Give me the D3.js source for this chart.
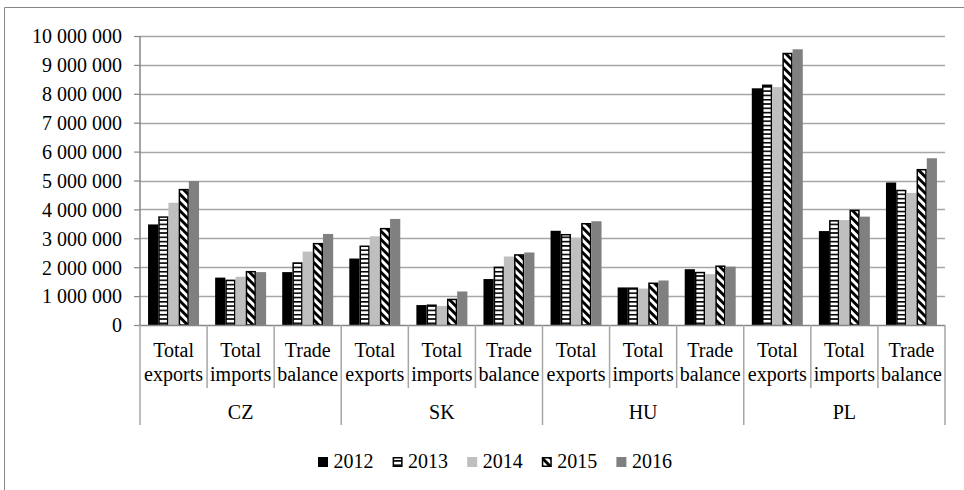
<!DOCTYPE html>
<html><head><meta charset="utf-8">
<script src="https://cdn.jsdelivr.net/npm/d3@7"></script>
<style>body{margin:0;background:#fff}svg{display:block}text{font-family:"Liberation Serif","DejaVu Serif",serif;fill:#000}</style>
</head><body><svg id="c" width="964" height="490"></svg>
<script>
const groups = ["CZ", "SK", "HU", "PL"];
const measures = [["Total", "exports"], ["Total", "imports"], ["Trade", "balance"]];
const years = ["2012", "2013", "2014", "2015", "2016"];
// values per group, per measure, per year
const CZ = [[3480000, 3760000, 4230000, 4710000, 4980000], [1640000, 1570000, 1670000, 1870000, 1830000], [1830000, 2170000, 2540000, 2840000, 3150000]];
const SK = [[2300000, 2750000, 3070000, 3360000, 3670000], [690000, 710000, 660000, 910000, 1160000], [1590000, 2020000, 2370000, 2450000, 2510000]];
const HU = [[3260000, 3150000, 3020000, 3530000, 3590000], [1300000, 1300000, 1260000, 1470000, 1540000], [1930000, 1840000, 1760000, 2060000, 2020000]];
const PL = [[8190000, 8320000, 8230000, 9420000, 9540000], [3250000, 3630000, 3630000, 3990000, 3750000], [4930000, 4680000, 4570000, 5400000, 5770000]];
const yTicks = [0, 1000000, 2000000, 3000000, 4000000, 5000000, 6000000, 7000000, 8000000, 9000000, 10000000];

const groupData = {CZ, SK, HU, PL};
const svg = d3.select("#c");
const L = 140, R = 945, T = 36, B = 325;

// outer border (only top and left visible in frame)
svg.append("path").attr("d", "M4.5,490V7.5H964")
  .attr("fill", "none").attr("stroke", "#868686").attr("stroke-width", 1);

// patterns
const defs = svg.append("defs");
const p13 = defs.append("pattern").attr("id", "p2013").attr("patternUnits", "userSpaceOnUse")
  .attr("width", 8).attr("height", 4.3);
p13.append("rect").attr("width", 8).attr("height", 4.3).attr("fill", "#fff");
p13.append("rect").attr("y", 0).attr("width", 8).attr("height", 1.6).attr("fill", "#000");
const p15 = defs.append("pattern").attr("id", "p2015").attr("patternUnits", "userSpaceOnUse")
  .attr("width", 5.8).attr("height", 10).attr("patternTransform", "rotate(-45)");
p15.append("rect").attr("width", 5.8).attr("height", 10).attr("fill", "#fff");
p15.append("rect").attr("width", 2.9).attr("height", 10).attr("fill", "#000");

const fills = {"2012": "#000000", "2013": "url(#p2013)", "2014": "#bfbfbf", "2015": "url(#p2015)", "2016": "#808080"};
const strokes = {"2013": "#000", "2015": "#000"};

const cats = [];
groups.forEach(g => measures.forEach((m, mi) => cats.push({g, m, mi, key: g + "|" + mi})));

const x = d3.scaleBand().domain(cats.map(c => c.key)).range([L, R]).padding(0);
const bw = x.bandwidth();
const xi = d3.scaleBand().domain(years).range([bw * 0.12, bw * 0.88]).padding(0);
const y = d3.scaleLinear().domain([0, 10000000]).range([B, T]);

const loc = d3.formatLocale({decimal: ".", thousands: " ", grouping: [3], currency: ["", ""]});
const fmt = loc.format(",d");

// gridlines
svg.append("g").selectAll("line").data(yTicks.filter(d => d > 0)).join("line")
  .attr("x1", L).attr("x2", R).attr("y1", d => Math.round(y(d)) + 0.5).attr("y2", d => Math.round(y(d)) + 0.5)
  .attr("stroke", "#a6a6a6").attr("stroke-width", 1.5);

// y axis
const yAxis = d3.axisLeft(y).tickValues(yTicks).tickFormat(fmt).tickSize(6).tickPadding(12);
const ga = svg.append("g").attr("transform", `translate(${L},0)`).call(yAxis);
ga.select(".domain").attr("stroke", "#868686").attr("stroke-width", 1.5).attr("d", `M0,${B}V${T}`);
ga.selectAll(".tick line").attr("stroke", "#868686").attr("stroke-width", 1.2);
ga.selectAll(".tick text").attr("font-size", 20).attr("font-family", "Liberation Serif").attr("fill", "#000").attr("dy", "0.34em");

// bars
const bars = [];
cats.forEach(c => years.forEach((yr, yi) => bars.push({c, yr, v: groupData[c.g][c.mi][yi]})));
svg.append("g").selectAll("rect").data(bars).join("rect")
  .attr("x", d => x(d.c.key) + xi(d.yr) + (strokes[d.yr] ? 0.75 : 0))
  .attr("width", d => xi.bandwidth() - (strokes[d.yr] ? 1.5 : 0))
  .attr("y", d => y(d.v) + (strokes[d.yr] ? 0.75 : 0))
  .attr("height", d => B - y(d.v) - (strokes[d.yr] ? 0.75 : 0))
  .attr("fill", d => fills[d.yr])
  .attr("stroke", d => strokes[d.yr] || "none")
  .attr("stroke-width", 1.5);

// x axis line
svg.append("line").attr("x1", L).attr("x2", R).attr("y1", B + 0.5).attr("y2", B + 0.5)
  .attr("stroke", "#868686").attr("stroke-width", 1.5);

// category separators
const sep = svg.append("g");
cats.forEach(c => {
  const xx = x(c.key);
  sep.append("line").attr("x1", xx).attr("x2", xx).attr("y1", B).attr("y2", c.mi === 0 ? 425 : 388)
    .attr("stroke", "#a6a6a6").attr("stroke-width", 1.5);
});
sep.append("line").attr("x1", R).attr("x2", R).attr("y1", B).attr("y2", 425)
  .attr("stroke", "#a6a6a6").attr("stroke-width", 1.5);

// category labels
const cl = svg.append("g");
cats.forEach(c => {
  const cx = x(c.key) + bw / 2;
  cl.append("text").attr("x", cx).attr("y", 357).attr("text-anchor", "middle").attr("font-size", 20).text(c.m[0]);
  cl.append("text").attr("x", cx).attr("y", 381).attr("text-anchor", "middle").attr("font-size", 20).text(c.m[1]);
});
groups.forEach(g => {
  const x0 = x(g + "|0"), x1 = x(g + "|2") + bw;
  cl.append("text").attr("x", (x0 + x1) / 2).attr("y", 419).attr("text-anchor", "middle").attr("font-size", 20).text(g);
});

// legend
const lg = svg.append("g");
years.forEach((yr, i) => {
  const lx = 318 + i * 74.6;
  lg.append("rect").attr("x", lx + (strokes[yr] ? 0.75 : 0)).attr("y", 457 + (strokes[yr] ? 0.75 : 0))
    .attr("width", strokes[yr] ? 8.5 : 10).attr("height", strokes[yr] ? 8.5 : 10)
    .attr("fill", fills[yr]).attr("stroke", strokes[yr] || "none").attr("stroke-width", 1.5);
  lg.append("text").attr("x", lx + 15.5).attr("y", 468).attr("font-size", 20).text(yr);
});
</script></body></html>
